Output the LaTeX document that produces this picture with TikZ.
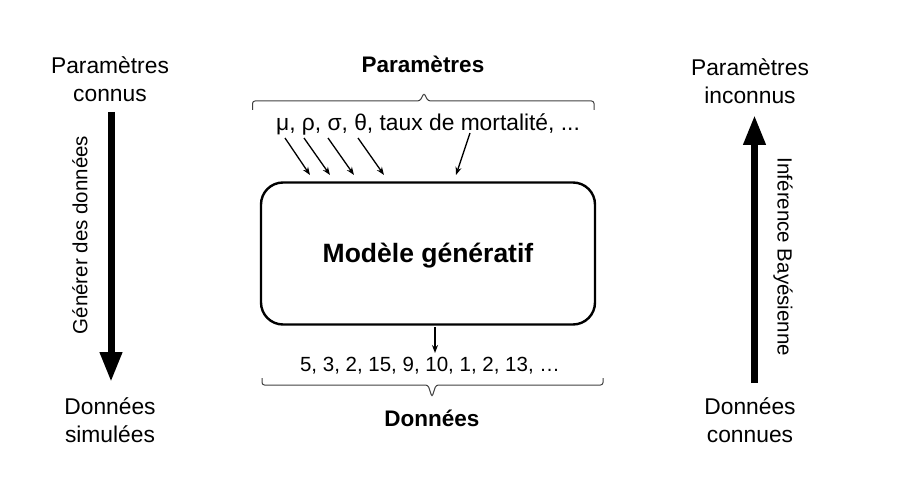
\documentclass[tikz,border=0pt]{standalone}
\usepackage{fontspec}
\setmainfont{Liberation Sans}
\usetikzlibrary{arrows.meta}
\tikzset{
  lbl/.style={align=center,inner sep=0pt,font=\fontsize{22.8}{28}\selectfont},
  ttl/.style={inner sep=0pt,font=\fontsize{22.5}{28}\selectfont\bfseries},
  side/.style={inner sep=0pt,font=\fontsize{20.5}{24}\selectfont},
  bigarrow/.style={line width=7pt,-{Triangle[length=30pt,width=21pt]}},
  smallarrow/.style={line width=1.3pt,-{Stealth[length=8pt,width=6pt]}},
  bracepath/.style={draw=black!75,line width=1pt,rounded corners=2.5pt},
  model/.style={draw,line width=2.4pt,rounded corners=22pt,minimum width=334pt,minimum height=142pt,inner sep=0pt,font=\fontsize{26.5}{30}\selectfont\bfseries}
}
\begin{document}
\begin{tikzpicture}[x=1pt,y=-1pt]
\useasboundingbox (0,0) rectangle (903,492);
% left column
\node[lbl] (pk) at (110,79) {Paramètres\\connus};
\node[lbl] (ds) at (110,420) {Données\\simulées};
\coordinate (la1) at (111,112);
\coordinate (la2) at (111,382);
\draw[bigarrow] (la1) -- (la2);
\node[side,rotate=90] (gen) at (80,235) {Générer des données};
% right column
\node[lbl] (pi) at (750,81) {Paramètres\\inconnus};
\node[lbl] (dc) at (750,420) {Données\\connues};
\coordinate (ra1) at (754.5,383);
\coordinate (ra2) at (754.5,115);
\draw[bigarrow] (ra1) -- (ra2);
\node[side,rotate=-90] (inf) at (783,257) {Inférence Bayésienne};
% center
\node[ttl] (ptitle) at (423,64) {Paramètres};
\draw[bracepath] (252.5,110) -- (252.5,101) -- (420,101) -- (424,93) -- (428,101) -- (594,101) -- (594,110);
\node[lbl] (plist) at (428,124) {μ, ρ, σ, θ, taux de mortalité, ...};
\node[model] (mg) at (428,253.5) {};
\node[inner sep=0pt,font=\fontsize{26.5}{30}\selectfont\bfseries] (mgt) at (428,256) {Modèle génératif};
\coordinate (a1s) at (285,138); \coordinate (a1e) at (310,175);
\coordinate (a2s) at (304,138); \coordinate (a2e) at (330,175);
\coordinate (a3s) at (328,138); \coordinate (a3e) at (354,175);
\coordinate (a4s) at (358,138); \coordinate (a4e) at (384,175);
\coordinate (a5s) at (470,133); \coordinate (a5e) at (456,175);
\draw[smallarrow] (a1s) -- (a1e);
\draw[smallarrow] (a2s) -- (a2e);
\draw[smallarrow] (a3s) -- (a3e);
\draw[smallarrow] (a4s) -- (a4e);
\draw[smallarrow] (a5s) -- (a5e);
\coordinate (ds1) at (435,327);
\coordinate (ds2) at (435,353);
\draw[smallarrow] (ds1) -- (ds2);
\node[lbl,font=\fontsize{20.5}{24}\selectfont,anchor=base] (nums) at (430,371) {5, 3, 2, 15, 9, 10, 1, 2, 13, …};
\draw[bracepath] (262,378) -- (262,385) -- (428,385) -- (432,397) -- (436,385) -- (603,385) -- (603,378);
\node[ttl] (dtitle) at (432,418) {Données};
\end{tikzpicture}
\end{document}
